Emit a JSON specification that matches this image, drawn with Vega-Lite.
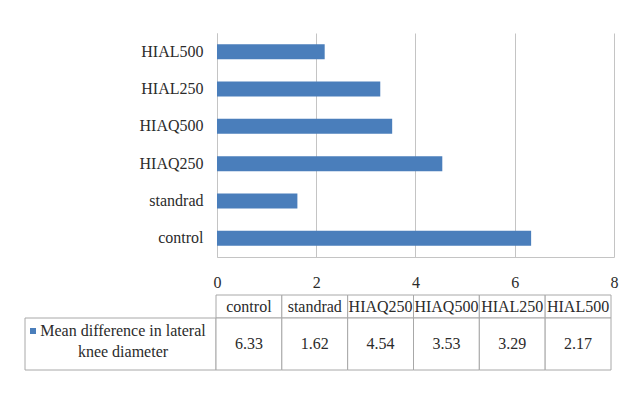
{
  "$schema": "https://vega.github.io/schema/vega-lite/v6.json",
  "background": "white",
  "padding": {"left": 24, "top": 33, "right": 4, "bottom": 4},
  "config": {
    "view": {"stroke": null},
    "font": "Liberation Serif",
    "text": {"font": "Liberation Serif"}
  },
  "datasets": {
    "knee": [
      {"group": "control", "diff": 6.33},
      {"group": "standrad", "diff": 1.62},
      {"group": "HIAQ250", "diff": 4.54},
      {"group": "HIAQ500", "diff": 3.53},
      {"group": "HIAL250", "diff": 3.29},
      {"group": "HIAL500", "diff": 2.17}
    ]
  },
  "spacing": 4,
  "vconcat": [
    {
      "width": 589,
      "height": 224,
      "data": {"name": "knee"},
      "mark": {"type": "bar", "color": "#4a7ebb"},
      "encoding": {
        "y": {
          "field": "group",
          "type": "nominal",
          "sort": ["HIAL500", "HIAL250", "HIAQ500", "HIAQ250", "standrad", "control"],
          "scale": {"paddingInner": 0.6, "paddingOuter": 0.3},
          "axis": {
            "title": null,
            "ticks": false,
            "offset": -192,
            "domainColor": "#c4c4c4",
            "labelPadding": 14,
            "labelFont": "Liberation Serif",
            "labelFontSize": 16,
            "labelColor": "#2b2b2b"
          }
        },
        "x": {
          "field": "diff",
          "type": "quantitative",
          "scale": {"domain": [-3.869, 8], "nice": false, "zero": false},
          "axis": {
            "title": null,
            "values": [0, 2, 4, 6, 8],
            "ticks": false,
            "grid": true,
            "gridColor": "#c4c4c4",
            "domainColor": "#c4c4c4",
            "domainDash": [0, 192, 397, 0],
            "labelFlush": false,
            "labelPadding": 17,
            "labelFont": "Liberation Serif",
            "labelFontSize": 16,
            "labelColor": "#2b2b2b"
          }
        },
        "x2": {"datum": 0}
      }
    },
    {
      "spacing": 0,
      "bounds": "flush",
      "hconcat": [
        {
          "width": 191,
          "height": 75,
          "data": {"values": [{"series": "Mean difference in lateral knee diameter"}]},
          "layer": [
            {
              "mark": {"type": "rect", "fill": "white", "stroke": "#a8a8a8", "strokeWidth": 1},
              "encoding": {
                "x": {"datum": 0, "type": "quantitative", "scale": {"domain": [0, 1], "nice": false, "zero": false}, "axis": null},
                "x2": {"datum": 1},
                "y": {"datum": 0, "type": "quantitative", "scale": {"domain": [0, 1], "nice": false, "zero": false}, "axis": null},
                "y2": {"datum": 0.6933}
              }
            },
            {
              "mark": {"type": "text", "fontSize": 16, "color": "#2b2b2b", "baseline": "middle", "align": "center", "lineHeight": 21},
              "encoding": {
                "x": {"datum": 0.513, "type": "quantitative"},
                "y": {"datum": 0.52, "type": "quantitative"},
                "text": {"value": ["Mean difference in lateral", "knee diameter"]}
              }
            },
            {
              "mark": {"type": "point", "shape": "square", "filled": true, "color": "#4a7ebb", "size": 36, "opacity": 1},
              "encoding": {
                "x": {"datum": 0.042, "type": "quantitative"},
                "y": {"datum": 0.52, "type": "quantitative"}
              }
            }
          ]
        },
        {
          "spacing": 0,
          "bounds": "flush",
          "vconcat": [
            {
              "width": 395,
              "height": 23,
              "data": {"name": "knee"},
              "encoding": {
                "x": {
                  "field": "group",
                  "type": "nominal",
                  "sort": ["control", "standrad", "HIAQ250", "HIAQ500", "HIAL250", "HIAL500"],
                  "scale": {"paddingInner": 0, "paddingOuter": 0},
                  "axis": null
                }
              },
              "layer": [
                {"mark": {"type": "rect", "fill": "white", "stroke": "#a8a8a8", "strokeWidth": 1}},
                {
                  "mark": {"type": "text", "fontSize": 16, "color": "#2b2b2b", "baseline": "middle"},
                  "encoding": {"text": {"field": "group"}}
                }
              ]
            },
            {
              "width": 395,
              "height": 52,
              "data": {"name": "knee"},
              "encoding": {
                "x": {
                  "field": "group",
                  "type": "nominal",
                  "sort": ["control", "standrad", "HIAQ250", "HIAQ500", "HIAL250", "HIAL500"],
                  "scale": {"paddingInner": 0, "paddingOuter": 0},
                  "axis": null
                }
              },
              "layer": [
                {"mark": {"type": "rect", "fill": "white", "stroke": "#a8a8a8", "strokeWidth": 1}},
                {
                  "mark": {"type": "text", "fontSize": 16, "color": "#2b2b2b", "baseline": "middle"},
                  "encoding": {"text": {"field": "diff", "type": "quantitative", "format": ".2f"}}
                }
              ]
            }
          ]
        }
      ]
    }
  ]
}
